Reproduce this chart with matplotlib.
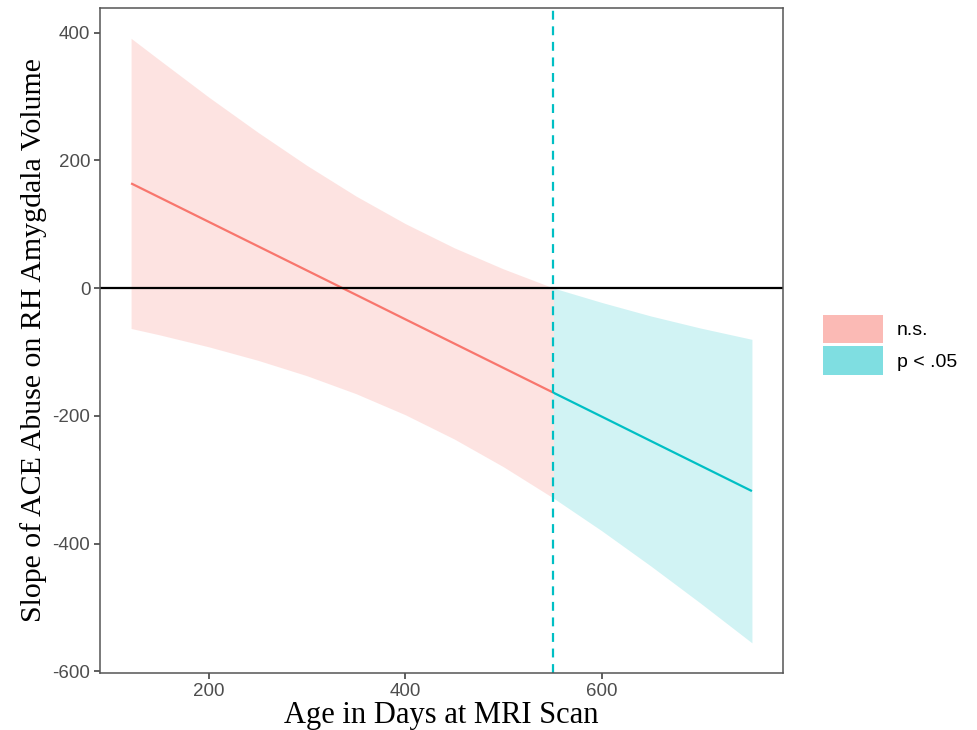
import matplotlib
matplotlib.use("Agg")
import matplotlib.pyplot as plt
from matplotlib.patches import Patch
import numpy as np

plt.rcParams["axes.unicode_minus"] = False

# ---- data ----
age = [121, 150, 200, 250, 300, 350, 400, 450, 500, 551, 600, 650, 700, 753]
slope = [163.9, 141.8, 103.7, 65.6, 27.5, -10.6, -48.8, -86.9, -125.0,
         -163.9, -201.2, -239.4, -277.5, -317.9]
upper = [391, 357, 299, 244, 192, 144, 101, 63, 30, 0, -22.5, -43.7, -62.4, -80.3]
lower = [-63.3, -73.3, -92.0, -113.1, -137.3, -165.4, -198.3, -236.4, -279.8,
         -328.9, -379.9, -435.1, -492.6, -555.5]
jn_point = 551
x_ticks = [200, 400, 600]
y_ticks = [-600, -400, -200, 0, 200, 400]
legend_labels = ["n.s.", "p < .05"]

RED = "#F8766D"
CYAN = "#00BFC4"

age_a = np.array(age)
slope_a = np.array(slope)
up_a = np.array(upper)
lo_a = np.array(lower)
ns = age_a <= jn_point
sig = age_a >= jn_point

fig = plt.figure(figsize=(9.77, 7.30), dpi=100)
ax = fig.add_axes([0.1024, 0.078, 0.8990 - 0.1024 - 0.0976, 0.989 - 0.078])

ax.fill_between(age_a[ns], lo_a[ns], up_a[ns], color=RED, alpha=0.2, linewidth=0)
ax.fill_between(age_a[sig], lo_a[sig], up_a[sig], color=CYAN, alpha=0.18, linewidth=0)
ax.plot(age_a[ns], slope_a[ns], color=RED, lw=1.6, solid_capstyle="butt")
ax.plot(age_a[sig], slope_a[sig], color=CYAN, lw=1.6, solid_capstyle="butt")
ax.axhline(0, color="black", lw=1.6)
ax.axvline(jn_point, color=CYAN, lw=1.6, ls=(0, (4, 3)))

ax.set_xlim(89.4, 784.6)
ax.set_ylim(-602.8, 438.4)
ax.set_xticks(x_ticks)
ax.set_yticks(y_ticks)
ax.tick_params(axis="both", direction="out", length=4, width=1.1, color="#333333",
               labelsize=13.5, labelcolor="#4D4D4D", pad=3)
for lab in ax.get_xticklabels() + ax.get_yticklabels():
    lab.set_fontfamily("Liberation Sans")
for s in ax.spines.values():
    s.set_color("#555555")
    s.set_linewidth(1.1)

ax.set_xlabel("Age in Days at MRI Scan", fontfamily="Liberation Serif", fontsize=22,
              labelpad=1)
ax.set_ylabel("Slope of ACE Abuse on RH Amygdala Volume", fontfamily="Liberation Serif",
              fontsize=21.5, labelpad=4)

handles = [Patch(facecolor=RED, alpha=0.5, edgecolor="none"),
           Patch(facecolor=CYAN, alpha=0.5, edgecolor="none")]
fig.legend(handles, legend_labels, loc="upper left", bbox_to_anchor=(0.842, 0.569),
           frameon=False, prop={"family": "Liberation Sans", "size": 14},
           handlelength=3.1, handleheight=1.9, labelspacing=0.15, handletextpad=0.72,
           borderpad=0, borderaxespad=0)

fig.savefig("out.png", dpi=100)
